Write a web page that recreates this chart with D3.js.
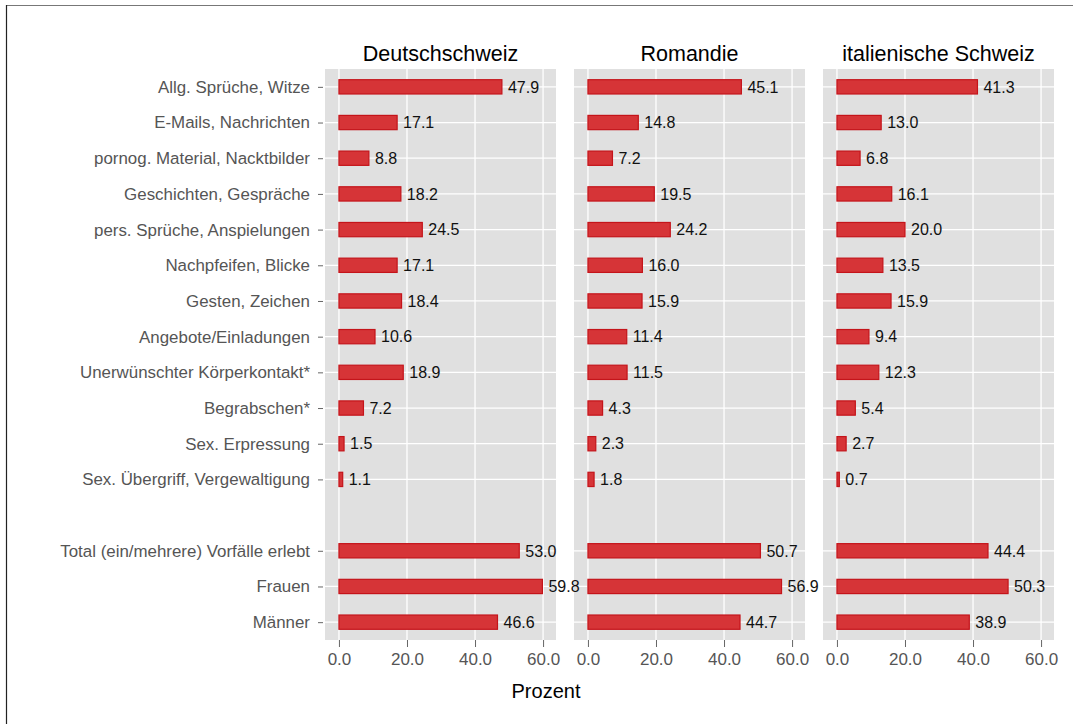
<!DOCTYPE html>
<html>
<head>
<meta charset="utf-8">
<script src="https://cdn.jsdelivr.net/npm/d3@7"></script>
<style>
  body { margin: 0; background: #fff; }
  svg { display: block; font-family: "Liberation Sans", Arial, sans-serif; }
</style>
</head>
<body>
<svg id="chart" width="1078" height="724"></svg>
<script>
// categories top to bottom ("" is the empty spacer row)
const categories = [
    "Allg. Sprüche, Witze",
    "E-Mails, Nachrichten",
    "pornog. Material, Nacktbilder",
    "Geschichten, Gespräche",
    "pers. Sprüche, Anspielungen",
    "Nachpfeifen, Blicke",
    "Gesten, Zeichen",
    "Angebote/Einladungen",
    "Unerwünschter Körperkontakt*",
    "Begrabschen*",
    "Sex. Erpressung",
    "Sex. Übergriff, Vergewaltigung",
    "",
    "Total (ein/mehrere) Vorfälle erlebt",
    "Frauen",
    "Männer"
];

const regions = ["Deutschschweiz", "Romandie", "italienische Schweiz"];

const deutschschweiz = [47.9, 17.1, 8.8, 18.2, 24.5, 17.1, 18.4, 10.6, 18.9, 7.2, 1.5, 1.1, null, 53.0, 59.8, 46.6];
const romandie       = [45.1, 14.8, 7.2, 19.5, 24.2, 16.0, 15.9, 11.4, 11.5, 4.3, 2.3, 1.8, null, 50.7, 56.9, 44.7];
const italienisch    = [41.3, 13.0, 6.8, 16.1, 20.0, 13.5, 15.9, 9.4, 12.3, 5.4, 2.7, 0.7, null, 44.4, 50.3, 38.9];

const xTicks = [0, 20, 40, 60];
const xTitle = "Prozent";

const seriesByRegion = [deutschschweiz, romandie, italienisch];

const svg = d3.select("#chart");

// outer frame
svg.append("line").attr("x1", 6).attr("x2", 1073).attr("y1", 5.5).attr("y2", 5.5)
    .attr("stroke", "#777").attr("stroke-width", 1.2);
svg.append("line").attr("x1", 6.5).attr("x2", 6.5).attr("y1", 5).attr("y2", 724)
    .attr("stroke", "#222").attr("stroke-width", 1.2);

const panelLefts = [325, 574, 823];
const panelWidth = 231;
const panelTop = 69, panelBottom = 640;

const yScale = d3.scaleBand()
    .domain(d3.range(categories.length))
    .range([panelTop, panelBottom])
    .paddingInner(0.6)
    .paddingOuter(0.3);

// band centers for grid lines
const yCenter = i => yScale(i) + yScale.bandwidth() / 2;

const xScale = d3.scaleLinear()
    .domain([-4.1, 63.8])
    .range([0, panelWidth]);

const panels = regions.map((region, p) => {
    const g = svg.append("g")
        .attr("transform", "translate(" + panelLefts[p] + ",0)");

    g.append("rect")
        .attr("x", 0).attr("y", panelTop)
        .attr("width", panelWidth).attr("height", panelBottom - panelTop)
        .attr("fill", "#e0e0e0");

    // vertical grid
    g.selectAll(".vgrid").data(xTicks).enter().append("line")
        .attr("x1", d => xScale(d)).attr("x2", d => xScale(d))
        .attr("y1", panelTop).attr("y2", panelBottom)
        .attr("stroke", "#fff").attr("stroke-width", 1.3);

    // horizontal grid (not for the spacer row)
    g.selectAll(".hgrid").data(d3.range(categories.length).filter(i => categories[i] !== "")).enter().append("line")
        .attr("x1", 0).attr("x2", panelWidth)
        .attr("y1", d => yCenter(d)).attr("y2", d => yCenter(d))
        .attr("stroke", "#fff").attr("stroke-width", 1.3);

    const values = seriesByRegion[p];
    const rows = values.map((v, i) => ({ i: i, v: v })).filter(d => d.v !== null);

    g.selectAll(".bar").data(rows).enter().append("rect")
        .attr("x", xScale(0))
        .attr("y", d => yScale(d.i))
        .attr("width", d => xScale(d.v) - xScale(0))
        .attr("height", yScale.bandwidth())
        .attr("fill", "#d63437")
        .attr("stroke", "#c4141a")
        .attr("stroke-width", 1.2);

    // strip title
    g.append("text")
        .attr("x", panelWidth / 2).attr("y", 61)
        .attr("text-anchor", "middle")
        .attr("font-size", 21.5)
        .attr("fill", "#000")
        .text(region);

    // x axis
    const xAxis = g.append("g")
        .attr("transform", "translate(0," + panelBottom + ")")
        .call(d3.axisBottom(xScale).tickValues(xTicks).tickFormat(d3.format(".1f")).tickSize(7).tickPadding(6));
    xAxis.select(".domain").remove();
    xAxis.selectAll("line").attr("stroke", "#666");
    xAxis.selectAll("text").attr("font-size", 17).attr("fill", "#555")
        .attr("font-family", "Liberation Sans, Arial, sans-serif");

    return rows;
});

// value labels in their own top layer so they can run past the panel edge
panels.forEach((rows, p) => {
    svg.append("g")
        .attr("transform", "translate(" + panelLefts[p] + ",0)")
        .selectAll("text").data(rows).enter().append("text")
        .attr("x", d => xScale(d.v) + 6)
        .attr("y", d => yCenter(d.i))
        .attr("dy", "0.36em")
        .attr("font-size", 16)
        .attr("fill", "#111")
        .text(d => d.v.toFixed(1));
});

// y axis on the first panel
const yAxis = svg.append("g")
    .attr("transform", "translate(" + (panelLefts[0] - 2) + ",0)")
    .call(d3.axisLeft(d3.scalePoint()
            .domain(d3.range(categories.length))
            .range([yCenter(0), yCenter(categories.length - 1)]))
        .tickFormat(i => categories[i]).tickSize(5).tickPadding(8));
yAxis.select(".domain").remove();
yAxis.selectAll(".tick").filter(i => categories[i] === "").remove();
yAxis.selectAll("line").attr("stroke", "#666");
yAxis.selectAll("text").attr("font-size", 16.9).attr("fill", "#555")
    .attr("font-family", "Liberation Sans, Arial, sans-serif");

svg.append("text")
    .attr("x", 546).attr("y", 698)
    .attr("text-anchor", "middle")
    .attr("font-size", 20)
    .attr("fill", "#000")
    .text(xTitle);
</script>
</body>
</html>
